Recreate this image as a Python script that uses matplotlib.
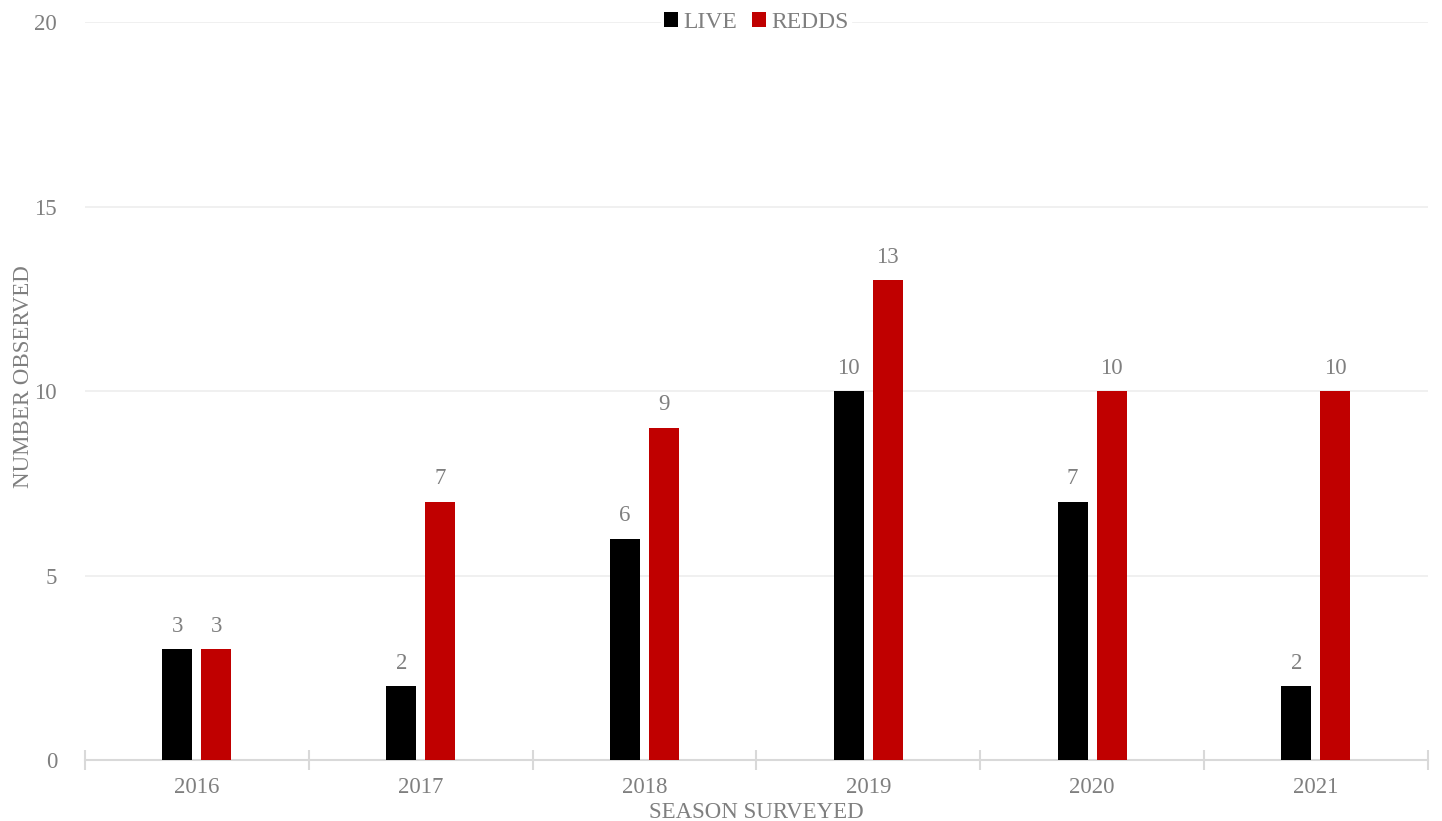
import matplotlib.pyplot as plt
import numpy as np

seasons = ["2016", "2017", "2018", "2019", "2020", "2021"]
live = [3, 2, 6, 10, 7, 2]
redds = [3, 7, 9, 13, 10, 10]

GRAY = "#7f7f7f"
FS = 16.5
plt.rcParams["font.family"] = ["Liberation Serif", "DejaVu Serif"]

fig = plt.figure(figsize=(14.42, 8.21), dpi=100)
ax = fig.add_axes([0.0589, 0.0743, 0.9313, 0.8989])

x = np.arange(len(seasons))
w = 0.134
off = 0.087
b1 = ax.bar(x - off, live, w, color="black", label="LIVE", zorder=3)
b2 = ax.bar(x + off, redds, w, color="#c00000", label="REDDS", zorder=3)

for bars in (b1, b2):
    for r in bars:
        ax.annotate(str(int(r.get_height())), (r.get_x() + r.get_width() / 2, r.get_height()),
                    xytext=(0, 9), textcoords="offset points", ha="center", va="bottom",
                    color=GRAY, fontsize=FS)

ax.set_xlim(-0.5, len(seasons) - 0.5)
ax.set_ylim(0, 20)
ax.set_yticks([0, 5, 10, 15, 20])
ax.grid(axis="y", color="#eeeeee", linewidth=1.2, zorder=0)
ax.set_axisbelow(True)

for s in ["top", "right", "left"]:
    ax.spines[s].set_visible(False)
ax.spines["bottom"].set_color("#d9d9d9")
ax.spines["bottom"].set_linewidth(1.5)

ax.set_xticks(x)
ax.set_xticklabels(seasons)
ax.set_xticks(np.arange(-0.5, len(seasons)), minor=True)
ax.tick_params(axis="x", which="major", length=0, pad=12, labelcolor=GRAY, labelsize=FS)
ax.tick_params(axis="x", which="minor", length=14, direction="inout", color="#d9d9d9", width=1.5)
ax.tick_params(axis="y", length=0, pad=20, labelcolor=GRAY, labelsize=FS)

ax.set_xlabel("SEASON SURVEYED", color=GRAY, fontsize=FS)
ax.set_ylabel("NUMBER OBSERVED", color=GRAY, fontsize=FS)
ax.xaxis.set_label_coords(0.5, -0.0705)
ax.yaxis.set_label_coords(-0.046, 0.519)
ax.xaxis.label.set_va("center")
ax.yaxis.label.set_va("center")

leg = ax.legend(loc="center", bbox_to_anchor=(0.5, 1.0), ncol=2, frameon=True, fontsize=17,
                handlelength=0.6, handleheight=0.6, handletextpad=0.25, columnspacing=0.6,
                borderpad=0.1, borderaxespad=0)
leg.get_frame().set_edgecolor("white")
leg.get_frame().set_facecolor("white")
leg.get_frame().set_alpha(1)
for t in leg.get_texts():
    t.set_color(GRAY)

fig.savefig("out.png", dpi=100)
